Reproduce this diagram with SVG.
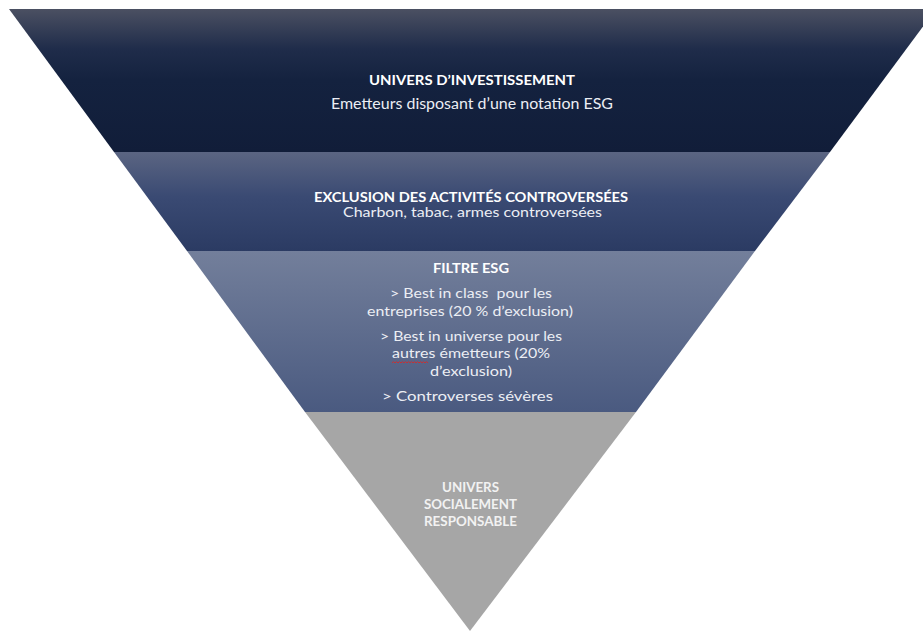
<svg xmlns="http://www.w3.org/2000/svg" width="923" height="631" viewBox="0 0 923 631">
<defs>
<linearGradient id="g1" x1="0" y1="0" x2="0" y2="1">
<stop offset="0" stop-color="#4b5062"/>
<stop offset="0.28" stop-color="#1f2c4a"/>
<stop offset="0.5" stop-color="#14223f"/>
<stop offset="1" stop-color="#111d39"/>
</linearGradient>
<linearGradient id="g2" x1="0" y1="0" x2="0" y2="1">
<stop offset="0" stop-color="#5b6582"/>
<stop offset="0.45" stop-color="#3a4a73"/>
<stop offset="1" stop-color="#2b3b63"/>
</linearGradient>
<linearGradient id="g3" x1="0" y1="0" x2="0" y2="1">
<stop offset="0" stop-color="#737f9b"/>
<stop offset="1" stop-color="#4a5a80"/>
</linearGradient>
<style>
text{font-family:Lato,"Open Sans","Liberation Sans",sans-serif;text-anchor:middle;fill:#ffffff}
.t{font-weight:bold}
.s{fill:#eceef4}
.w{fill:#f2f2f2;font-weight:bold}
</style>
</defs>
<g id="band1">
<polygon points="9,9 936,9 830,152 114,152" fill="url(#g1)"/>
<text class="t" x="472" y="84.5" font-size="13.5" textLength="206" lengthAdjust="spacingAndGlyphs">UNIVERS D’INVESTISSEMENT</text>
<text class="s" x="472" y="109" font-size="15.5" textLength="282" lengthAdjust="spacingAndGlyphs">Emetteurs disposant d’une notation ESG</text>
</g>
<g id="band2">
<polygon points="114,152 830,152 755,251 187,251" fill="url(#g2)"/>
<text class="t" x="471" y="201.7" font-size="13" textLength="314" lengthAdjust="spacingAndGlyphs">EXCLUSION DES ACTIVITÉS CONTROVERSÉES</text>
<text class="s" x="472.5" y="217" font-size="12.8" textLength="259" lengthAdjust="spacingAndGlyphs">Charbon, tabac, armes controversées</text>
</g>
<g id="band3">
<polygon points="187,251 755,251 636,412 305,412" fill="url(#g3)"/>
<text class="t" x="471" y="273.3" font-size="12.5" textLength="76" lengthAdjust="spacingAndGlyphs">FILTRE ESG</text>
<text class="s" x="471" y="298.3" font-size="13.5" textLength="162" lengthAdjust="spacingAndGlyphs" xml:space="preserve">&gt; Best in class  pour les</text>
<text class="s" x="470" y="315.7" font-size="13.5" textLength="206" lengthAdjust="spacingAndGlyphs">entreprises (20 % d’exclusion)</text>
<text class="s" x="471" y="340.5" font-size="13.5" textLength="182" lengthAdjust="spacingAndGlyphs">&gt; Best in universe pour les</text>
<text class="s" x="471" y="358.3" font-size="13.5" textLength="158" lengthAdjust="spacingAndGlyphs">autres émetteurs (20%</text>
<path d="M392,363 l1.5,-1.5 l1.5,1.5 l1.5,-1.5 l1.5,1.5 l1.5,-1.5 l1.5,1.5 l1.5,-1.5 l1.5,1.5 l1.5,-1.5 l1.5,1.5 l1.5,-1.5 l1.5,1.5 l1.5,-1.5 l1.5,1.5 l1.5,-1.5 l1.5,1.5 l1.5,-1.5 l1.5,1.5 l1.5,-1.5 l1.5,1.5 l1.5,-1.5 l1.5,1.5 l1.5,-1.5 l1.5,1.5" fill="none" stroke="#d42a2a" stroke-width="0.9"/>
<text class="s" x="471" y="376" font-size="13.5" textLength="82" lengthAdjust="spacingAndGlyphs">d’exclusion)</text>
<text class="s" x="467.5" y="401" font-size="13.5" textLength="171" lengthAdjust="spacingAndGlyphs">&gt; Controverses sévères</text>
</g>
<g id="band4">
<polygon points="305,412 636,412 470,631" fill="#a6a6a6"/>
<text class="w" x="470.5" y="491.7" font-size="12.5" textLength="57" lengthAdjust="spacingAndGlyphs">UNIVERS</text>
<text class="w" x="470.5" y="509.3" font-size="12.5" textLength="93" lengthAdjust="spacingAndGlyphs">SOCIALEMENT</text>
<text class="w" x="470.5" y="526" font-size="12.5" textLength="93" lengthAdjust="spacingAndGlyphs">RESPONSABLE</text>
</g>
<g id="connectors"/>
</svg>
